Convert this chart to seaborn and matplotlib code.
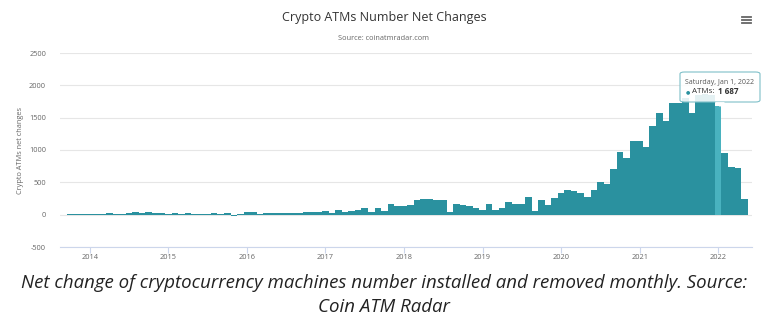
import matplotlib
matplotlib.use("Agg")
import matplotlib.pyplot as plt
import seaborn as sns
import pandas as pd
import numpy as np
from matplotlib.patches import FancyBboxPatch, Polygon
from matplotlib.lines import Line2D

# ---- data (monthly net change of crypto ATMs, Oct 2013 .. May 2022) ----
start_year = 2013
start_month = 10
atm_changes = [
    3, 3, 3,                                                         # 2013 Oct-Dec
    3, 5, 18, 20, 15, 15, 25, 40, 20, 38, 30, 25,                    # 2014
    15, 20, 12, 20, 5, 15, 15, 20, 15, 20, -15, 5,                   # 2015
    40, 35, 10, 20, 25, 20, 25, 25, 20, 45, 40, 45,                  # 2016
    55, 20, 65, 45, 55, 75, 100, 45, 110, 55, 160, 130,              # 2017
    130, 150, 230, 240, 235, 230, 220, 35, 165, 150, 130, 100,       # 2018
    75, 165, 65, 100, 200, 165, 170, 280, 50, 230, 145, 255,         # 2019
    335, 375, 360, 335, 280, 385, 500, 480, 700, 975, 880, 1140,     # 2020
    1145, 1042, 1370, 1575, 1450, 1725, 1725, 1800, 1575, 1850, 1860, 1850,  # 2021
    1687, 950, 735, 720, 240,                                        # 2022 Jan-May
]
year_ticks = [2014, 2015, 2016, 2017, 2018, 2019, 2020, 2021, 2022]
y_ticks = [-500, 0, 500, 1000, 1500, 2000, 2500]
highlight_label = "Saturday, Jan 1, 2022"
highlight_value = 1687

months = []
y, m = start_year, start_month
for _ in atm_changes:
    months.append(y + (m - 1) / 12.0)
    m += 1
    if m > 12:
        m = 1
        y += 1
df = pd.DataFrame({"t": np.round(months, 6), "atms": atm_changes})

plt.rcParams["font.family"] = ["Open Sans", "DejaVu Sans"]

W, H = 768, 329
fig = plt.figure(figsize=(W / 100, H / 100), dpi=100)
ax = fig.add_axes([60 / W, 1 - 247 / H, (752 - 60) / W, (247 - 53) / H])

bar_color = "#2a919f"
sns.barplot(data=df, x="t", y="atms", native_scale=True, width=1.0,
            color=bar_color, saturation=1, errorbar=None, ax=ax,
            edgecolor="none", linewidth=0)

# highlight hovered bar
hl_t = 2022.0
for p in ax.patches:
    cx = p.get_x() + p.get_width() / 2
    if abs(cx - hl_t) < 0.02:
        p.set_facecolor("#49b2bf")

ax.set_ylim(-500, 2500)
ax.set_xlim(2013.62, 2022.43)
ax.set_yticks(y_ticks)
ax.set_yticklabels([str(v) for v in y_ticks])
ax.set_xticks(year_ticks)
ax.set_xticklabels([str(v) for v in year_ticks])

ax.grid(axis="y", color="#e6e6e6", linewidth=0.8)
ax.grid(axis="x", visible=False)
ax.set_axisbelow(True)
for s in ["top", "right", "left"]:
    ax.spines[s].set_visible(False)
ax.spines["bottom"].set_color("#ccd6eb")
ax.spines["bottom"].set_linewidth(0.8)
ax.tick_params(axis="y", length=0, pad=10, labelsize=5.3, labelcolor="#666666")
ax.tick_params(axis="x", length=4, color="#ccd6eb", width=0.8, pad=1,
               labelsize=5.3, labelcolor="#666666")
ax.set_xlabel("")
ax.set_ylabel("Crypto ATMs net changes", fontsize=5.3, color="#666666", labelpad=4)
ax.set_facecolor("white")

# title / subtitle
fig.text(384 / W, 1 - 18 / H, "Crypto ATMs Number Net Changes", ha="center", va="center",
         fontsize=9.0, color="#333333")
fig.text(384 / W, 1 - 38 / H, "Source: coinatmradar.com", ha="center", va="center",
         fontsize=5.3, color="#666666")

# hamburger menu icon
for yy in (17, 20, 23):
    fig.add_artist(Line2D([742 / W, 751 / W], [1 - yy / H, 1 - yy / H],
                          color="#666666", linewidth=1.3, transform=fig.transFigure))

# tooltip
box = FancyBboxPatch((680 / W, 1 - 102 / H), 80 / W, 30 / H,
                     boxstyle="round,pad=0,rounding_size=0.006",
                     transform=fig.transFigure, facecolor=(1, 1, 1, 0.88),
                     edgecolor="#7fc0c9", linewidth=0.8, zorder=10)
fig.add_artist(box)
ptr = Polygon([[715 / W, 1 - 102 / H], [725 / W, 1 - 102 / H], [720 / W, 1 - 107 / H]],
              closed=True, transform=fig.transFigure, facecolor=(1, 1, 1, 0.88),
              edgecolor="none", zorder=11)
fig.add_artist(ptr)
fig.text(685 / W, 1 - 82 / H, highlight_label, ha="left", va="center",
         fontsize=5.0, color="#555555", zorder=12)
fig.text(686 / W, 1 - 92 / H, "\u25CF", ha="left", va="center",
         fontfamily="DejaVu Sans", fontsize=3.6, color=bar_color, zorder=12)
fig.text(692 / W, 1 - 92 / H, "ATMs:", ha="left", va="center",
         fontsize=5.8, color="#333333", zorder=12)
fig.text(718 / W, 1 - 92 / H, "1 687", ha="left", va="center",
         fontsize=5.8, fontweight="bold", color="#333333", zorder=12)

# caption
fig.text(384 / W, 1 - 283 / H,
         "Net change of cryptocurrency machines number installed and removed monthly. Source:",
         ha="center", va="center", style="italic", fontsize=13.4, color="#222222")
fig.text(384 / W, 1 - 307 / H, "Coin ATM Radar", ha="center", va="center",
         style="italic", fontsize=13.4, color="#222222")

fig.savefig("out.png", dpi=100, facecolor="white")
